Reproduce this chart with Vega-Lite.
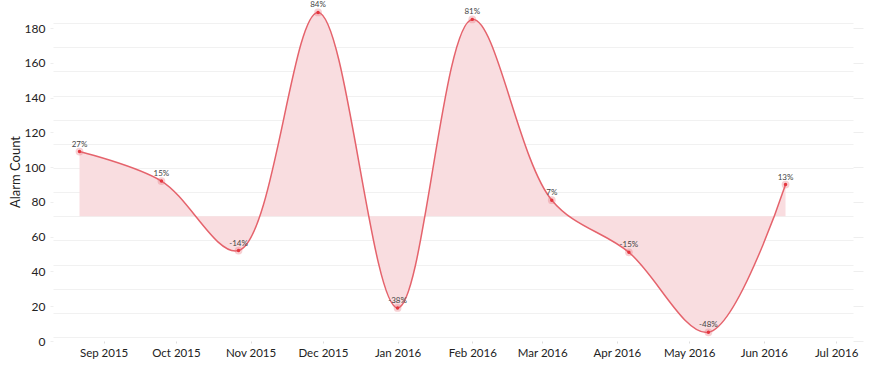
{
  "$schema": "https://vega.github.io/schema/vega-lite/v6.json",
  "width": 800,
  "height": 339,
  "autosize": {"type": "none"},
  "padding": {"left": 53, "top": 2, "right": 20, "bottom": 30},
  "background": "white",
  "config": {
    "font": "Lato",
    "view": {"stroke": null},
    "axis": {"labelFont": "Lato", "titleFont": "Lato"}
  },
  "data": {
    "values": [
      {"date": "2015-08-22", "count": 109, "label": "27%"},
      {"date": "2015-09-25", "count": 92, "label": "15%"},
      {"date": "2015-10-27", "count": 52, "label": "-14%"},
      {"date": "2015-11-29", "count": 189, "label": "84%"},
      {"date": "2016-01-01", "count": 19, "label": "-38%"},
      {"date": "2016-02-01", "count": 185, "label": "81%"},
      {"date": "2016-03-05", "count": 81, "label": "7%"},
      {"date": "2016-04-06", "count": 51, "label": "-15%"},
      {"date": "2016-05-09", "count": 5, "label": "-48%"},
      {"date": "2016-06-10", "count": 90, "label": "13%"}
    ]
  },
  "encoding": {
    "x": {
      "field": "date", "type": "temporal",
      "scale": {"type": "utc", "domain": [{"year": 2015, "month": "Aug", "date": 11, "utc": true}, {"year": 2016, "month": "Jul", "date": 8, "utc": true}]},
      "axis": {
        "orient": "bottom", "title": null,
        "labelExpr": "utcFormat(datum.value, '%b %Y')",
        "values": [
          {"year": 2015, "month": "Sep", "date": 1, "utc": true},
          {"year": 2015, "month": "Oct", "date": 1, "utc": true},
          {"year": 2015, "month": "Nov", "date": 1, "utc": true},
          {"year": 2015, "month": "Dec", "date": 1, "utc": true},
          {"year": 2016, "month": "Jan", "date": 1, "utc": true},
          {"year": 2016, "month": "Feb", "date": 1, "utc": true},
          {"year": 2016, "month": "Mar", "date": 1, "utc": true},
          {"year": 2016, "month": "Apr", "date": 1, "utc": true},
          {"year": 2016, "month": "May", "date": 1, "utc": true},
          {"year": 2016, "month": "Jun", "date": 1, "utc": true},
          {"year": 2016, "month": "Jul", "date": 1, "utc": true}
        ],
        "grid": false, "domain": false, "tickSize": 2, "tickColor": "#dddddd", "labelPadding": 4, "labelFontSize": 11.5, "labelColor": "#222222", "labelFlush": false, "labelOverlap": false
      }
    }
  },
  "resolve": {"axis": {"y": "independent"}},
  "layer": [
    {
      "mark": {"type": "area", "interpolate": "catmull-rom", "color": "#f9dde0", "opacity": 1},
      "encoding": {
        "y": {
          "field": "count", "type": "quantitative",
          "scale": {"domain": [0, 195], "nice": false, "zero": true},
          "axis": {"orient": "left", "title": "Alarm Count", "titleFontSize": 13, "titleFontWeight": "normal", "titleColor": "#222222", "titlePadding": 2, "values": [0, 20, 40, 60, 80, 100, 120, 140, 160, 180], "grid": false, "domain": false, "tickSize": 3, "tickColor": "#eeeeee", "labelPadding": 5, "labelFontSize": 12, "labelColor": "#222222"}
        },
        "y2": {"datum": 71.75}
      }
    },
    {
      "mark": {"type": "line", "interpolate": "catmull-rom", "color": "#e5636c", "strokeWidth": 1.5},
      "encoding": {
        "y": {
          "field": "count", "type": "quantitative",
          "axis": {"orient": "left", "title": null, "labels": false, "ticks": false, "domain": false, "grid": true, "gridColor": "#f1f1f1", "gridWidth": 1, "values": [2.3, 16.19, 30.08, 43.97, 57.86, 71.75, 85.64, 99.53, 113.42, 127.31, 141.2, 155.09, 168.98, 182.87]}
        }
      }
    },
    {
      "mark": {"type": "point", "filled": true, "color": "#e5636c", "opacity": 0.3, "size": 60},
      "encoding": {
        "y": {
          "field": "count", "type": "quantitative",
          "axis": {"orient": "right", "title": null, "labels": false, "grid": false, "domain": false, "ticks": true, "tickSize": 10, "tickColor": "#eeeeee", "values": [0, 20, 40, 60, 80, 100, 120, 140, 160, 180]}
        }
      }
    },
    {
      "mark": {"type": "point", "filled": true, "color": "#e5363f", "opacity": 1, "size": 12},
      "encoding": {
        "y": {"field": "count", "type": "quantitative", "axis": null}
      }
    },
    {
      "mark": {"type": "text", "fontSize": 8, "color": "#444444", "dy": -7},
      "encoding": {
        "y": {"field": "count", "type": "quantitative", "axis": null},
        "text": {"field": "label"}
      }
    }
  ]
}
